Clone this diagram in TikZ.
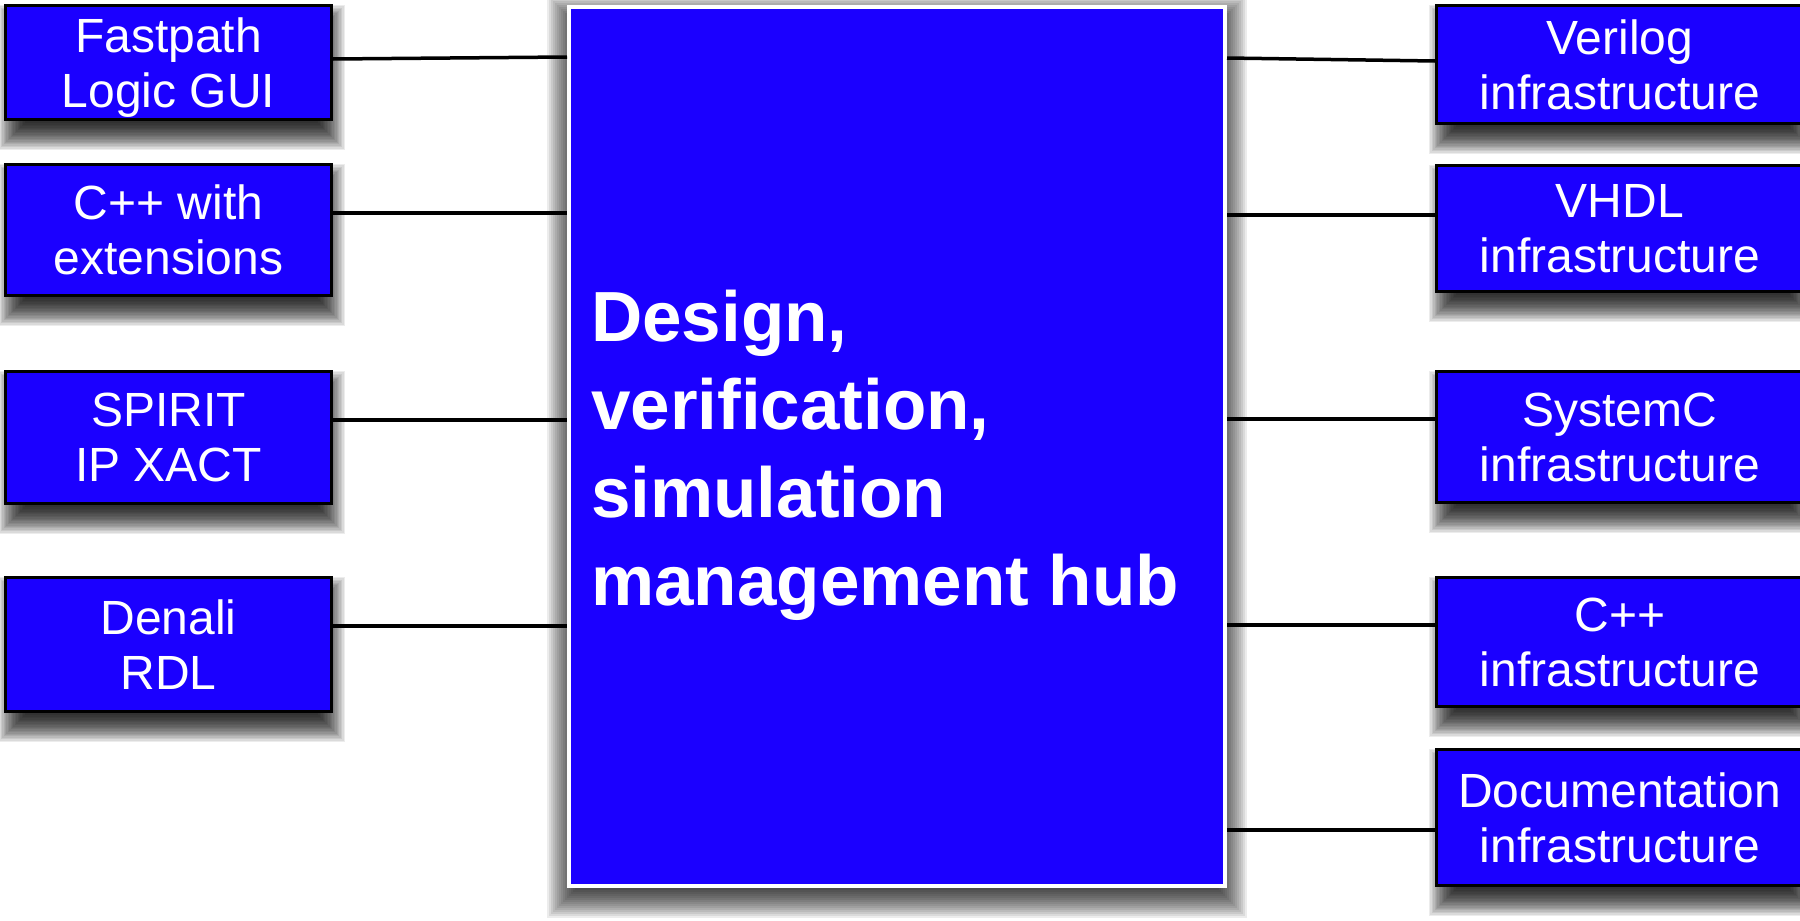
\documentclass[tikz,border=0pt]{standalone}
\usepackage{fontspec}
\setmainfont{Liberation Sans}
\usetikzlibrary{calc}
\pgfdeclarelayer{background}
\pgfsetlayers{background,main}
\definecolor{hubblue}{RGB}{27,0,255}
% #1 node, #2 x offset, #3 y offset (down), #4 blur, #5 layer opacity, #6 horizontal inset
\newcommand\softshadow[6]{%
  \foreach \k in {1,...,20}{%
    \pgfmathsetmacro\rr{#4*\k/20-#4/2}%
    \pgfmathsetmacro\axa{#2-(\rr)+#6}%
    \pgfmathsetmacro\aya{#3-(\rr)}%
    \pgfmathsetmacro\axb{#2+(\rr)-#6}%
    \pgfmathsetmacro\ayb{#3+(\rr)}%
    \fill[black, fill opacity=#5] ([shift={(\axa,\aya)}]#1.north west) rectangle ([shift={(\axb,\ayb)}]#1.south east);
  }%
}
\begin{document}
\begin{tikzpicture}[x=1pt,y=-1pt,
  box/.style={draw=black, line width=3pt, fill=hubblue, text=white,
    minimum width=326pt, inner sep=0pt, align=center, text depth=0pt,
    font=\fontsize{48}{55}\selectfont},
  rbox/.style={box, minimum width=366.5pt},
  hubbox/.style={draw=white, line width=4pt, fill=hubblue,
    minimum width=656pt, minimum height=879pt, inner sep=0pt},
  hubtextstyle/.style={inner sep=0pt, text=white, align=left,
    font=\fontsize{71}{88}\selectfont\bfseries},
  conn/.style={draw=black, line width=3.5pt}]
\useasboundingbox (0,0) rectangle (1800,921);

\node[box, minimum height=114pt] (fp) at (168.5,62.5) {Fastpath\\Logic GUI};
\node[box, minimum height=131pt] (cpw) at (168.5,230) {C++ with\\extensions};
\node[box, minimum height=132pt] (spirit) at (168.5,437.5) {SPIRIT\\IP XACT};
\node[box, minimum height=134pt] (denali) at (168.5,644.5) {Denali\\RDL};

\node[rbox, minimum height=118pt] (verilog) at (1619.75,64.5) {Verilog\\infrastructure};
\node[rbox, minimum height=126pt] (vhdl) at (1619.75,228.5) {VHDL\\infrastructure};
\node[rbox, minimum height=131pt] (systemc) at (1619.75,437) {SystemC\\infrastructure};
\node[rbox, minimum height=129pt] (cpp) at (1619.75,642) {C++\\infrastructure};
\node[rbox, minimum height=136pt] (doc) at (1619.75,817.5) {Documentation\\infrastructure};

\node[hubbox] (hub) at (897,446.5) {};
\node[hubtextstyle, anchor=west] (hubtext) at (591,455.5) {Design,\\verification,\\simulation\\management hub};

\draw[conn] (fp.east |- 0,59) -- (hub.west |- 0,57);
\draw[conn] (cpw.east |- 0,213) -- (hub.west |- 0,213);
\draw[conn] (spirit.east |- 0,420) -- (hub.west |- 0,420);
\draw[conn] (denali.east |- 0,626) -- (hub.west |- 0,626);

\draw[conn] (hub.east |- 0,58) -- (verilog.west |- 0,61);
\draw[conn] (hub.east |- 0,215) -- (vhdl.west |- 0,215);
\draw[conn] (hub.east |- 0,419) -- (systemc.west |- 0,419);
\draw[conn] (hub.east |- 0,625) -- (cpp.west |- 0,625);
\draw[conn] (hub.east |- 0,830) -- (doc.west |- 0,830);

\begin{pgfonlayer}{background}
  \fill[white] (0,0) rectangle (1800,921);
  \foreach \n in {fp,cpw,spirit,denali,verilog,vhdl,systemc,cpp,doc}{%
    \softshadow{\n}{3}{15}{28}{0.075}{5}%
  }
  \softshadow{hub}{0}{10}{40}{0.075}{0}
\end{pgfonlayer}
\end{tikzpicture}
\end{document}
